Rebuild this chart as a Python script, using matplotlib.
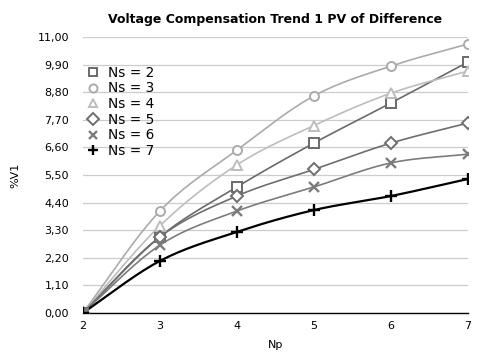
import matplotlib
matplotlib.use('Agg')
import matplotlib.pyplot as plt
import numpy as np

# data
np_vals = [2, 3, 4, 5, 6, 7]
ns2 = [0.0, 3.03, 5.02, 6.77, 8.37, 10.0]
ns3 = [0.0, 4.06, 6.49, 8.65, 9.84, 10.72]
ns4 = [0.0, 3.47, 5.90, 7.47, 8.76, 9.64]
ns5 = [0.0, 3.03, 4.66, 5.72, 6.77, 7.57]
ns6 = [0.0, 2.70, 4.06, 5.02, 5.98, 6.33]
ns7 = [0.0, 2.07, 3.23, 4.10, 4.66, 5.34]
labels = ['Ns = 2', 'Ns = 3', 'Ns = 4', 'Ns = 5', 'Ns = 6', 'Ns = 7']
y_ticks = [0, 1.1, 2.2, 3.3, 4.4, 5.5, 6.6, 7.7, 8.8, 9.9, 11.0]

series = [ns2, ns3, ns4, ns5, ns6, ns7]
markers = ['s', 'o', '^', 'D', 'x', '+']
colors = ['#6a6a6a', '#ababab', '#bdbdbd', '#6e6e6e', '#7c7c7c', '#000000']


def smooth(x, y, n=30):
    # hermite curve through the points, just for drawing the line
    x = np.asarray(x, float)
    y = np.asarray(y, float)
    m = np.gradient(y, x)
    xs, ys = [], []
    for i in range(len(x) - 1):
        h = x[i + 1] - x[i]
        t = np.linspace(0, 1, n)
        h00 = 2 * t**3 - 3 * t**2 + 1
        h10 = t**3 - 2 * t**2 + t
        h01 = -2 * t**3 + 3 * t**2
        h11 = t**3 - t**2
        xs.append(x[i] + t * h)
        ys.append(h00 * y[i] + h10 * h * m[i] + h01 * y[i + 1] + h11 * h * m[i + 1])
    return np.concatenate(xs), np.concatenate(ys)


fig = plt.figure(figsize=(4.87, 3.52), dpi=100)
ax = fig.add_axes([0.170, 0.111, 0.791, 0.784])

for y, mk, c, lab in zip(series, markers, colors, labels):
    sx, sy = smooth(np_vals, y)
    lw = 1.6 if c == '#000000' else 1.2
    ax.plot(sx, sy, color=c, lw=lw, zorder=2)
    filled = mk in ('x', '+')
    ax.plot(np_vals, y, linestyle='none', marker=mk, markersize=6.5 if mk != '+' else 8.5,
            markerfacecolor=c if filled else 'white', markeredgecolor=c,
            markeredgewidth=1.7 if filled else 1.4, zorder=3, label=lab)

ax.set_xlim(2, 7)
ax.set_ylim(0, 11)
ax.set_xticks(np_vals)
ax.set_yticks(y_ticks)
ax.set_yticklabels([f'{v:.2f}'.replace('.', ',') for v in y_ticks])
ax.tick_params(length=0, labelsize=8)
ax.tick_params(axis='y', pad=10)
ax.tick_params(axis='x', pad=6)

ax.grid(axis='y', color='#cccccc', lw=0.9)
ax.set_axisbelow(True)
for s in ['top', 'right', 'left']:
    ax.spines[s].set_visible(False)
ax.spines['bottom'].set_color('black')
ax.spines['bottom'].set_linewidth(1.0)

ax.set_xlabel('Np', fontsize=8, labelpad=6)
ax.set_ylabel('%V1', fontsize=8, labelpad=12)
ax.set_title('Voltage Compensation Trend 1 PV of Difference', fontsize=9,
             fontweight='bold', pad=10)

leg = ax.legend(loc='upper left', bbox_to_anchor=(-0.008, 0.915), frameon=False,
                fontsize=9.8, handletextpad=0.5, labelspacing=0.12, handlelength=1.2,
                borderaxespad=0, markerscale=0.9)

plt.savefig('out.png', dpi=100)
